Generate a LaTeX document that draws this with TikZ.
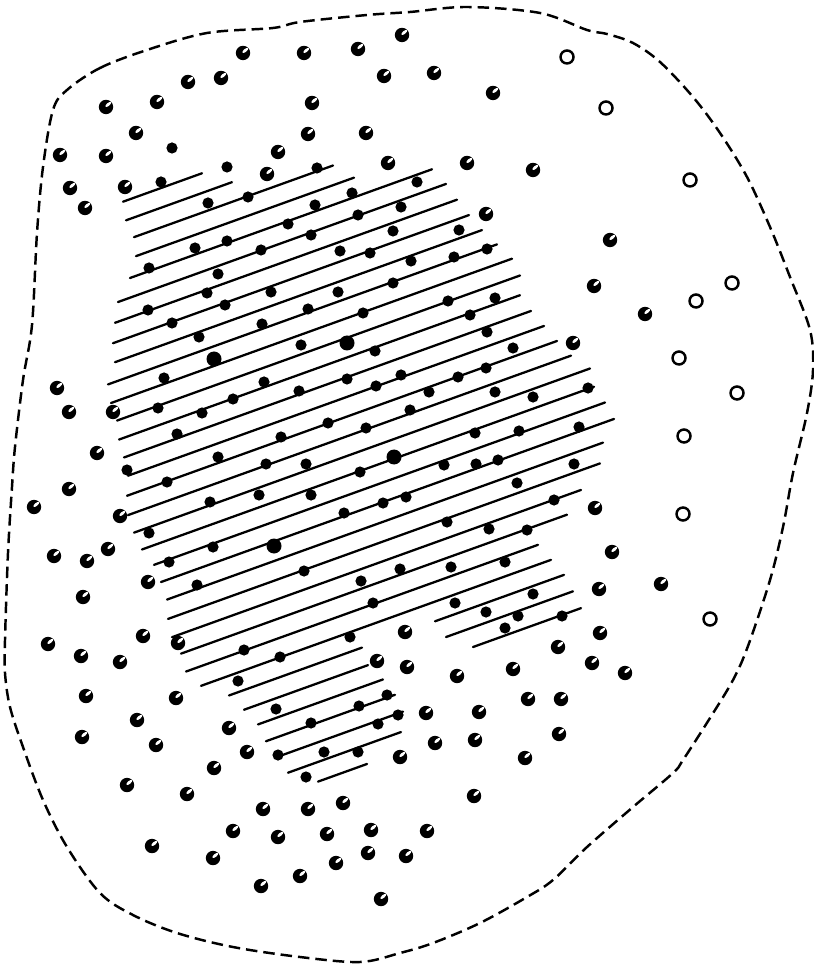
\documentclass[tikz,border=0pt]{standalone}
\usetikzlibrary{calc}
\tikzset{
  rim/.style = {dash pattern=on 1.15mm off 0.6mm, line width=0.7pt},
  hatch/.style = {line width=0.65pt, line cap=round},
  ring/.style = {draw, fill=white, line width=0.7pt},
}
\newcommand{\halfDot}[2]{
  \fill (#1,#2) circle[radius=7.2];
  \fill[white] ($(#1,#2)+(2.2,-2.5)$) circle[x radius=3.5, y radius=1.5, rotate=40];
}
\def\slope{0.36}
\def\cTop{246}
\def\cStep{19.7}

\begin{document}
\begin{tikzpicture}[x=0.1mm, y=-0.1mm]
  \useasboundingbox (0,0) rectangle (814,964);

  % ----------------------------------------------------------------------
  % dashed boundary
  % ----------------------------------------------------------------------
  \draw[rim] plot[smooth cycle, tension=0.55] coordinates {
    (67,90) (100,68) (147,50) (207,33) (273,28) (300,22) (367,15) (410,12)
    (467,7) (540,13) (587,30) (607,34) (633,43) (660,62) (693,97) (720,133)
    (747,177) (770,227) (790,277) (810,330) (813,370) (807,413) (793,473)
    (783,527) (770,580) (748,646) (733,680) (710,718) (683,760) (673,773)
    (633,807) (587,847) (553,880) (527,897) (480,923) (433,943) (400,953)
    (360,962) (300,957) (233,947) (177,933) (133,915) (100,893) (67,847)
    (43,800) (23,747) (10,707) (5,673) (5,640) (8,553) (12,487) (15,447)
    (23,380) (32,325) (37,233) (43,167) (53,110)};

  % ----------------------------------------------------------------------
  % hatching: line k runs along y = cTop + (k-1)*cStep - slope*x
  % ----------------------------------------------------------------------
  \foreach \k/\xa/\xb in {1/123/202, 2/126/232, 3/134/333, 4/136/354,
      5/130/432, 6/118/446, 7/115/457, 8/113/469, 9/115/482, 10/108/497,
      11/111/512, 12/117/520, 13/119/520, 14/124/531, 15/128/544,
      16/127/557, 17/128/571, 18/134/590, 19/142/594, 20/154/605,
      21/161/614, 22/167/603, 23/168/600, 24/172/581, 25/181/567,
      26/186/538, 27/201/551, 28/229/362, 28/435/564, 29/244/368,
      29/446/573, 30/258/383, 30/473/581, 31/266/395, 32/278/403,
      33/288/401, 34/318/367} {
    \draw[hatch] (\xa,{\cTop+(\k-1)*\cStep-\slope*\xa}) -- (\xb,{\cTop+(\k-1)*\cStep-\slope*\xb});
  }

  % ----------------------------------------------------------------------
  % black dots
  % ----------------------------------------------------------------------
  \foreach \x/\y in {161/182, 227/167, 172/148, 317/168, 208/203, 248/197,
      352/193, 315/205, 288/224, 358/215, 227/241, 195/248, 261/250, 311/235,
      340/251, 149/268, 218/274, 207/293, 271/292, 338/292, 148/310, 225/305,
      172/323, 262/324, 308/309, 363/313, 199/337, 301/345, 164/378, 264/382,
      299/391, 347/379, 158/408, 202/413, 233/399, 328/423, 366/428, 177/434,
      281/437, 218/457, 266/464, 306/464, 127/470,
      417/182, 401/207, 393/231, 459/230, 370/253, 411/261, 454/257, 487/249,
      393/283, 448/301, 495/298, 470/315, 487/332, 375/351, 513/348, 401/375,
      376/386, 458/377, 486/368, 429/392, 495/392, 533/397, 588/388, 410/410,
      475/433, 519/431, 579/427, 444/465, 476/464, 498/460, 574/464,
      167/482, 360/472, 210/502, 259/495, 311/495, 149/533, 344/513, 213/547,
      169/562, 197/585, 304/571, 361/581, 244/650, 280/657, 350/637, 238/681,
      276/709, 311/723, 359/706, 278/755, 324/752, 358/752, 306/777,
      517/483, 383/503, 406/497, 554/500, 447/522, 489/529, 527/530, 400/569,
      451/567, 505/562, 373/603, 455/603, 533/594, 486/612, 518/616, 562/616,
      505/628, 387/695, 378/724, 398/715} {
    \fill (\x,\y) circle[radius=5.6];
  }
  \foreach \x/\y in {347/343, 214/359, 394/457, 274/546} {
    \fill (\x,\y) circle[radius=7.5];
  }

  % ----------------------------------------------------------------------
  % half-shaded dots
  % ----------------------------------------------------------------------
  \foreach \x/\y in {402/35, 243/53, 304/53, 358/49, 384/76, 188/82, 221/78,
      106/107, 157/102, 312/103, 136/133, 308/134, 366/133, 60/155, 106/156,
      278/152, 388/163, 70/188, 125/187, 267/174, 85/208, 434/73, 493/93,
      467/163, 533/170, 486/214, 610/240, 594/286, 645/314,
      573/343, 595/508, 612/552, 661/584, 599/589, 600/633, 405/632, 558/647,
      57/388, 69/412, 113/412, 97/453, 69/489, 34/507, 120/516, 54/556,
      87/561, 108/549, 148/582, 83/597, 143/636, 48/644, 178/643,
      120/662, 176/698, 137/720, 229/728, 156/745, 247/752, 214/768, 127/785,
      187/794, 81/656, 86/696, 82/737,
      377/661, 407/667, 400/757, 263/809, 308/809, 343/803, 233/831, 278/837,
      327/834, 371/830, 368/853, 336/863, 300/876, 261/886, 152/846, 213/858,
      381/899, 406/856,
      457/676, 513/669, 592/663, 625/673, 528/699, 561/699, 426/713, 479/712,
      435/743, 475/740, 559/734, 525/758, 474/796, 427/831} {
    \halfDot{\x}{\y}
  }

  % ----------------------------------------------------------------------
  % open circles
  % ----------------------------------------------------------------------
  \foreach \x/\y in {567/57, 606/108, 690/180, 732/283, 696/301, 679/358,
      737/393, 684/436, 683/514, 710/619} {
    \draw[ring] (\x,\y) circle[radius=6.5];
  }

\end{tikzpicture}
\end{document}
